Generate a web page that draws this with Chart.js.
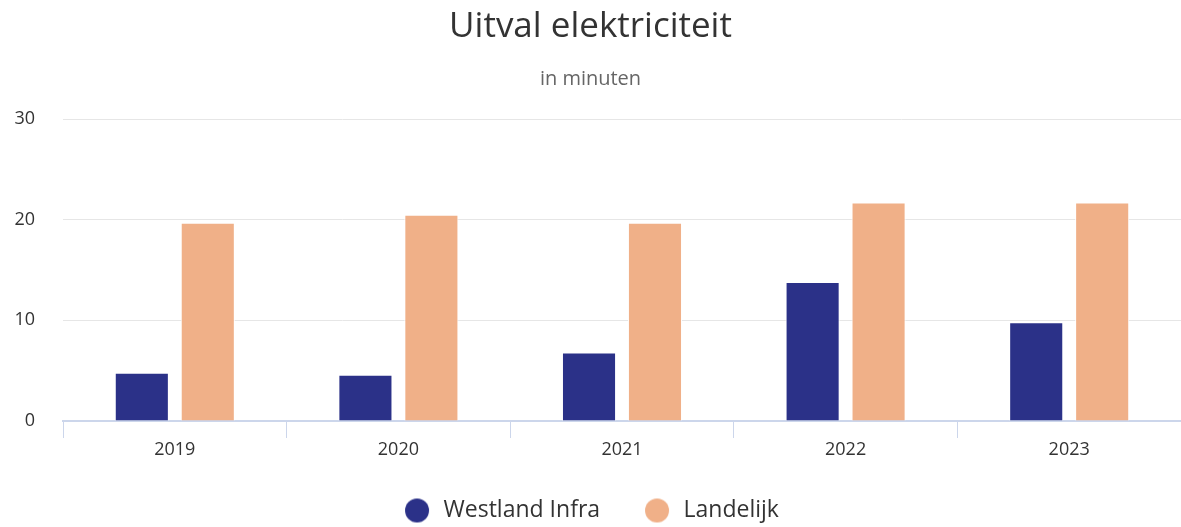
<!DOCTYPE html>
<html>
<head>
<meta charset="utf-8">
<script src="https://cdn.jsdelivr.net/npm/chart.js@4"></script>
<style>
  html, body { margin: 0; padding: 0; background: #fff; }
  #wrap { width: 1181px; height: 527px; }
</style>
</head>
<body>
<div id="wrap"><canvas id="chart"></canvas></div>
<script>
const years = ["2019", "2020", "2021", "2022", "2023"];
const westlandInfra = [4.8, 4.6, 6.8, 13.8, 9.8];
const landelijk = [19.7, 20.5, 19.7, 21.7, 21.7];
const yTicks = [0, 10, 20, 30];
const colors = ["#2b3188", "#f0b088"];

const fontFamily = "'Open Sans', sans-serif";

// legend dot drawn as a small canvas so the spacing to the text can be set
function makeDot(color) {
    const c = document.createElement("canvas");
    c.width = 26;
    c.height = 26;
    const g = c.getContext("2d");
    g.fillStyle = color;
    g.beginPath();
    g.arc(13, 13, 12, 0, Math.PI * 2);
    g.fill();
    return c;
}
const dots = colors.map(makeDot);

const ctx = document.getElementById("chart").getContext("2d");
new Chart(ctx, {
    type: "bar",
    data: {
        labels: years,
        datasets: [
            {
                label: "Westland Infra",
                data: westlandInfra,
                backgroundColor: colors[0],
                borderColor: "#ffffff",
                borderWidth: 1
            },
            {
                label: "Landelijk",
                data: landelijk,
                backgroundColor: colors[1],
                borderColor: "#ffffff",
                borderWidth: 1
            }
        ]
    },
    options: {
        responsive: true,
        maintainAspectRatio: false,
        animation: false,
        categoryPercentage: 0.59,
        barPercentage: 0.82,
        layout: { padding: { left: 0, right: 0, top: 6, bottom: -5 } },
        plugins: {
            title: {
                display: true,
                text: "Uitval elektriciteit",
                color: "#333333",
                font: { family: fontFamily, size: 35, weight: "normal" },
                padding: { top: 0, bottom: 14 }
            },
            subtitle: {
                display: true,
                text: "in minuten",
                color: "#666666",
                font: { family: fontFamily, size: 20, weight: "normal" },
                padding: { top: 5, bottom: 28 }
            },
            legend: {
                position: "bottom",
                labels: {
                    usePointStyle: true,
                    pointStyleWidth: 30,
                    color: "#333333",
                    font: { family: fontFamily, size: 23 },
                    padding: 42,
                    boxHeight: 18,
                    generateLabels: (chart) => {
                        const items = Chart.defaults.plugins.legend.labels.generateLabels(chart);
                        items.forEach((item, i) => { item.pointStyle = dots[i]; });
                        return items;
                    }
                }
            },
            tooltip: { enabled: false }
        },
        scales: {
            x: {
                grid: {
                    drawOnChartArea: false,
                    color: "#ccd6eb",
                    tickLength: 17,
                    lineWidth: 1
                },
                border: { color: "#ccd6eb", width: 2 },
                ticks: {
                    color: "#333333",
                    font: { family: fontFamily, size: 18, lineHeight: 1 },
                    padding: 3
                },
                afterFit: (scale) => { scale.height = 36; }
            },
            y: {
                min: 0,
                max: 30,
                afterBuildTicks: (axis) => {
                    axis.ticks = yTicks.map(v => ({ value: v }));
                },
                grid: {
                    color: "#e6e6e6",
                    lineWidth: 1,
                    drawTicks: false
                },
                border: { display: false },
                ticks: {
                    color: "#333333",
                    font: { family: fontFamily, size: 18 },
                    padding: 28
                },
                afterFit: (scale) => { scale.width = 63; }
            }
        }
    }
});
</script>
</body>
</html>
